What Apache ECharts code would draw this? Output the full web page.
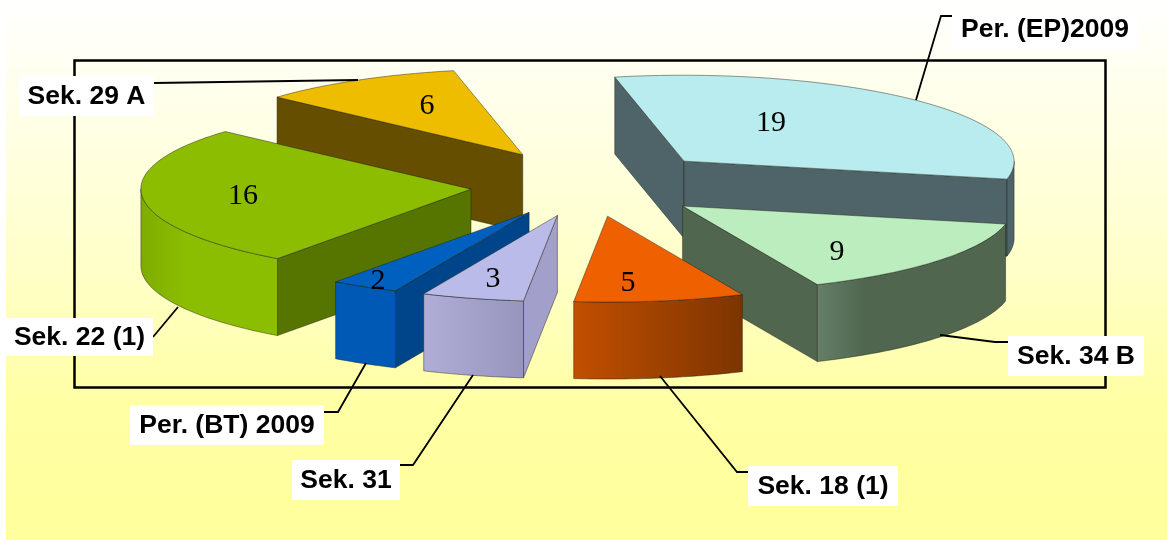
<!DOCTYPE html>
<html>
<head>
    <meta charset="utf-8">
    <style>html, body { margin: 0; padding: 0; background: #fff; }</style>
    <script src="https://cdn.jsdelivr.net/npm/echarts@6/dist/echarts.min.js"></script>
</head>
<body>
<div id="main" style="width:1167px;height:540px"></div>
<script type="text/javascript">
    // slices clockwise from the Per. (EP) / Sek. 34 B boundary
    var categories = ['Sek. 34 B', 'Sek. 18 (1)', 'Sek. 31', 'Per. (BT) 2009', 'Sek. 22 (1)', 'Sek. 29 A', 'Per. (EP)2009'];
    var values = [9, 5, 3, 2, 16, 6, 19];
    var explode = [0.37, 0.355, 0.355, 0.355, 0.355, 0.40, 0.41];
    // small corrections on top of the explode distance
    var nudge = [[0, 0], [1.5, 0], [0, 0], [0, 0], [0, 0], [1.5, -1.5], [1, 0]];
    // back to front
    var drawOrder = [6, 5, 0, 4, 3, 2, 1];

    var topColors = ['#bbedbe', '#ef6100', '#bbbbe9', '#0060c0', '#8cbd00', '#eebd00', '#b9ecee'];
    var sideColors = ['#50664f', '#8a3a00', '#a2a0cb', '#00458a', '#557400', '#664e00', '#4f6468'];
    var wallFrom = ['#667f68', '#c24f00', '#b0aed6', '#0059b5', '#7fac00', '#664e00', '#4f6468'];
    var wallTo = ['#50664f', '#7c3500', '#9794bd', '#0059b5', '#8cbe00', '#664e00', '#4f6468'];
    var wallStop = [0.25, 1, 1, 1, 0.35, 1, 1];

    // number on top of each slice
    var numberPos = [[837, 252], [628, 283], [493, 279], [378, 281], [243, 196], [427, 106], [771, 123]];

    // pie projection
    var pieCenter = [587.5, 186];
    var depth = 77;

    // callouts
    var calloutBoxes = [
        [1008, 336, 136, 40], [748, 466, 150, 40], [292, 460, 108, 40], [130, 405, 194, 40],
        [6, 318, 147, 38], [19, 76, 135, 40], [952, 8, 186, 42]
    ];
    var calloutLines = [
        [[940, 335], [995, 342], [1008, 342]],
        [[660, 376], [737, 472], [748, 472]],
        [[473, 375], [413, 465], [400, 465]],
        [[366, 363], [338, 412], [324, 412]],
        [[178, 307], [153, 337]],
        [[358, 80], [154, 83]],
        [[916, 100], [941, 16], [952, 16]]
    ];

    var total = values.reduce(function (a, b) { return a + b; }, 0);
    var startAngles = [];
    var acc = 0;
    for (var i = 0; i < values.length; i++) {
        startAngles[i] = acc / total * 2 * Math.PI;
        acc += values[i];
    }

    // angle on the pie -> screen offset, the tilted disc is a plain affine map
    function project(t) {
        var c = Math.cos(t), s = Math.sin(t);
        return [323 * c - 68 * s, 18 * c + 84 * s];
    }

    function renderSlice(params, api) {
        var idx = api.value(0);
        var a0 = startAngles[idx];
        var a1 = a0 + values[idx] / total * 2 * Math.PI;
        var mid = project((a0 + a1) / 2);
        var apex = [
            pieCenter[0] + explode[idx] * mid[0] + nudge[idx][0],
            pieCenter[1] + explode[idx] * mid[1] + nudge[idx][1]
        ];

        var rim = [];
        var steps = Math.max(4, Math.round(values[idx] * 6));
        for (var k = 0; k <= steps; k++) {
            var p = project(a0 + (a1 - a0) * k / steps);
            rim.push([apex[0] + p[0], apex[1] + p[1]]);
        }
        var first = rim[0], last = rim[rim.length - 1];
        var edge = 'rgba(30,30,20,0.65)';
        var children = [];

        function wall(pts, fill) {
            var poly = pts.slice();
            for (var n = pts.length - 1; n >= 0; n--) {
                poly.push([pts[n][0], pts[n][1] + depth]);
            }
            children.push({
                type: 'polygon',
                shape: {points: poly},
                style: {fill: fill, stroke: edge, lineWidth: 0.7}
            });
        }

        // a hanging wall only shows when its top edge runs right to left
        if (first[0] < apex[0]) {
            wall([apex, first], sideColors[idx]);
        }
        if (apex[0] < last[0]) {
            wall([last, apex], sideColors[idx]);
        }
        var front = [];
        for (var j = 0; j < rim.length - 1; j++) {
            if (rim[j + 1][0] < rim[j][0]) {
                if (front.length == 0) front.push(rim[j]);
                front.push(rim[j + 1]);
            }
        }
        if (front.length > 1) {
            wall(front, new echarts.graphic.LinearGradient(0, 0, 1, 0, [
                {offset: 0, color: wallFrom[idx]},
                {offset: wallStop[idx], color: wallTo[idx]},
                {offset: 1, color: wallTo[idx]}
            ]));
        }
        children.push({
            type: 'polygon',
            shape: {points: [apex].concat(rim)},
            style: {fill: topColors[idx], stroke: edge, lineWidth: 0.7}
        });
        children.push({
            type: 'text',
            style: {
                text: String(values[idx]),
                x: numberPos[idx][0],
                y: numberPos[idx][1],
                align: 'center',
                verticalAlign: 'middle',
                fill: '#000',
                font: '30px "Liberation Serif"'
            }
        });
        return {type: 'group', children: children};
    }

    var graphics = [
        {
            type: 'rect',
            z: -1,
            shape: {x: 6, y: 0, width: 1161, height: 540},
            style: {
                fill: new echarts.graphic.LinearGradient(0, 0, 0, 1, [
                    {offset: 0, color: '#ffffff'},
                    {offset: 0.5, color: '#ffffc8'},
                    {offset: 0.75, color: '#ffffa4'},
                    {offset: 1, color: '#ffff9c'}
                ])
            }
        },
        {
            type: 'rect',
            z: 0,
            shape: {x: 74.5, y: 60.5, width: 1031, height: 327},
            style: {fill: 'none', stroke: '#000', lineWidth: 2.5}
        }
    ];
    categories.forEach(function (name, i) {
        var box = calloutBoxes[i];
        graphics.push({
            type: 'polyline',
            z: 10,
            shape: {points: calloutLines[i]},
            style: {fill: 'none', stroke: '#000', lineWidth: 1.8}
        });
        graphics.push({
            type: 'rect',
            z: 11,
            shape: {x: box[0], y: box[1], width: box[2], height: box[3]},
            style: {fill: '#fff'}
        });
        graphics.push({
            type: 'text',
            z: 12,
            style: {
                text: name,
                x: box[0] + box[2] / 2,
                y: box[1] + box[3] / 2 + 1,
                align: 'center',
                verticalAlign: 'middle',
                fill: '#000',
                font: 'bold 26.5px "Liberation Sans"'
            }
        });
    });

    var myChart = echarts.init(document.getElementById('main'));
    myChart.setOption({
        animation: false,
        graphic: graphics,
        series: [{
            type: 'custom',
            coordinateSystem: 'none',
            silent: true,
            z: 2,
            renderItem: renderSlice,
            data: drawOrder.map(function (idx) { return [idx, values[idx]]; })
        }]
    });
</script>
</body>
</html>
